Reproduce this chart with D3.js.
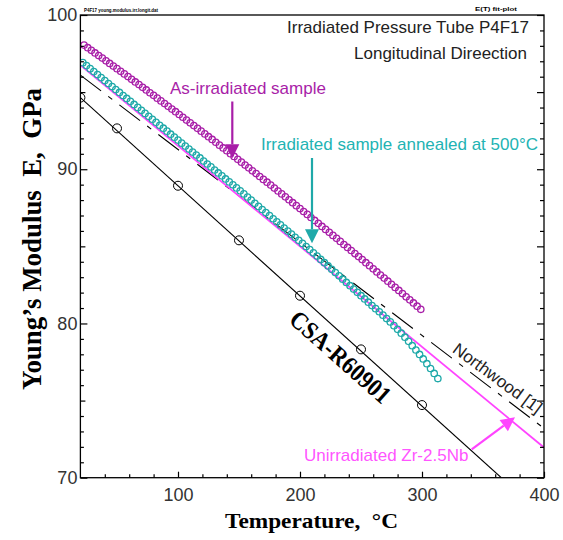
<!DOCTYPE html>
<html><head><meta charset="utf-8">
<script src="https://cdn.jsdelivr.net/npm/d3@7"></script>
<style>body{margin:0;background:#fff}</style>
</head><body>
<svg id="chart" width="563" height="540"></svg>
<script>
// ---- data ----
const csaTemps = [20, 50, 100, 150, 200, 250, 300];
const csaModulus = [94.64, 92.65, 88.93, 85.39, 81.80, 78.32, 74.71];
const csaLineTemps = [20, 365];
const csaLineModulus = [94.64, 70.0];
const northwoodTemps = [20, 400];
const northwoodModulus = [96.1, 73.2];
const unirrTemps = [20, 400];
const unirrModulus = [96.74, 71.96];
const asIrrTemps = [23,26,29,32,35,38,41,44,47,50,53,56,59,62,65,68,71,74,77,80,83,86,89,92,95,98,101,104,107,110,113,116,119,122,125,128,131,134,137,140,143,146,149,152,155,158,161,164,167,170,173,176,179,182,185,188,191,194,197,200,203,206,209,212,215,218,221,224,227,230,233,236,239,242,245,248,251,254,257,260,263,266,269,272,275,278,281,284,287,290,293,296,299];
const asIrrModulus = [98.05,97.88,97.71,97.54,97.37,97.21,97.03,96.86,96.69,96.52,
96.35,96.18,96.01,95.83,95.66,95.49,95.31,95.14,94.96,94.79,
94.61,94.43,94.26,94.08,93.90,93.73,93.55,93.37,93.19,93.01,
92.83,92.65,92.47,92.29,92.11,91.93,91.75,91.56,91.38,91.20,
91.01,90.83,90.64,90.46,90.27,90.09,89.90,89.72,89.53,89.34,
89.16,88.97,88.78,88.59,88.40,88.21,88.02,87.83,87.64,87.45,
87.26,87.07,86.87,86.68,86.49,86.29,86.10,85.91,85.71,85.52,
85.32,85.12,84.93,84.73,84.53,84.34,84.14,83.94,83.75,83.54,
83.34,83.14,82.94,82.74,82.54,82.34,82.14,81.94,81.73,81.53,
81.33,81.12,80.92];
const annealTemps = [22,25,28,31,34,37,40,43,46,49,52,55,58,61,64,67,70,73,76,79,82,85,88,91,94,97,100,103,106,109,112,115,118,121,124,127,130,133,136,139,142,145,148,151,154,157,160,163,166,169,172,175,178,181,184,187,190,193,196,199,202,205,208,211,214,217,220,223,226,229,232,235,238,241,244,247,250,253,256,259,262,265,268,271,274,277,280,283,286,289,292,295,298,301,304,307,310,313];
const annealModulus = [96.91,96.72,96.52,96.33,96.14,95.94,95.75,95.56,95.36,95.17,
94.98,94.78,94.59,94.40,94.20,94.01,93.82,93.62,93.43,93.24,
93.04,92.85,92.66,92.47,92.27,92.08,91.89,91.69,91.50,91.31,
91.11,90.92,90.73,90.53,90.34,90.15,89.95,89.76,89.57,89.37,
89.18,88.99,88.79,88.60,88.40,88.20,88.00,87.79,87.59,87.39,
87.19,86.99,86.79,86.59,86.39,86.19,85.99,85.79,85.59,85.39,
85.19,84.99,84.79,84.58,84.37,84.15,83.94,83.73,83.51,83.30,
83.09,82.87,82.66,82.45,82.23,82.02,81.80,81.59,81.38,81.16,
80.96,80.76,80.54,80.32,80.10,79.86,79.62,79.37,79.11,78.84,
78.56,78.28,77.99,77.70,77.39,77.08,76.76,76.43];
const xMajorTicks = [100, 200, 300, 400];
const xMinorTicks = [40,60,80,120,140,160,180,220,240,260,280,320,340,360,380];
const yMajorTicks = [70, 80, 90, 100];
const yMidTicks = [75, 85, 95];
const yMinorTicks = [71,72,73,74,76,77,78,79,81,82,83,84,86,87,88,89,91,92,93,94,96,97,98,99];

// ---- layout ----
const L = 80.4, R = 544, T = 15, B = 477.7;
const svg = d3.select("#chart");
const x = d3.scaleLinear().domain([20, 400]).range([L, R]);
const y = d3.scaleLinear().domain([70, 100]).range([B, T]);
const zip = (a, b) => a.map((v, i) => [v, b[i]]);

const COL_PURPLE = "#a81ea8", COL_TEAL = "#1fa9a9", COL_PINK = "#ff44ff";
const sans = "'Liberation Sans', Arial, Helvetica, sans-serif";
const serif = "'Liberation Serif', 'Times New Roman', serif";

const plot = svg.append("g");
plot.append("clipPath").attr("id", "clip").append("rect")
  .attr("x", L).attr("y", T).attr("width", R - L).attr("height", B - T);
const clipped = plot.append("g").attr("clip-path", "url(#clip)");
const line = d3.line().x(d => x(d[0])).y(d => y(d[1]));

// CSA line
clipped.append("path").datum(zip(csaLineTemps, csaLineModulus))
  .attr("d", line).attr("fill", "none").attr("stroke", "#000").attr("stroke-width", 1.1);
// Northwood dashed
clipped.append("path").datum(zip(northwoodTemps, northwoodModulus))
  .attr("d", line).attr("fill", "none").attr("stroke", "#000").attr("stroke-width", 1.1)
  .attr("stroke-dasharray", "26,9,5,9");
// Unirradiated
clipped.append("path").datum(zip(unirrTemps, unirrModulus))
  .attr("d", line).attr("fill", "none").attr("stroke", COL_PINK).attr("stroke-width", 1.8);

// CSA markers
clipped.selectAll("circle.csa").data(zip(csaTemps, csaModulus)).join("circle")
  .attr("class", "csa").attr("cx", d => x(d[0])).attr("cy", d => y(d[1])).attr("r", 4.5)
  .attr("fill", "none").attr("stroke", "#000").attr("stroke-width", 1);

// annealed (teal)
clipped.selectAll("circle.ann").data(zip(annealTemps, annealModulus)).join("circle")
  .attr("class", "ann").attr("cx", d => x(d[0])).attr("cy", d => y(d[1])).attr("r", 3.2)
  .attr("fill", "none").attr("stroke", COL_TEAL).attr("stroke-width", 1.3);
// as-irradiated (purple)
clipped.selectAll("circle.asirr").data(zip(asIrrTemps, asIrrModulus)).join("circle")
  .attr("class", "asirr").attr("cx", d => x(d[0])).attr("cy", d => y(d[1])).attr("r", 3.2)
  .attr("fill", "none").attr("stroke", COL_PURPLE).attr("stroke-width", 1.3);

// ---- axes ----
function axis(gen, tr) {
  const g = svg.append("g").attr("transform", tr).call(gen);
  g.select(".domain").remove();
  g.selectAll("line").attr("stroke", "#000").attr("stroke-width", 1.2);
  g.selectAll("text").attr("font-family", sans).attr("font-size", 18).attr("fill", "#333");
  return g;
}
axis(d3.axisBottom(x).tickValues(xMinorTicks).tickSize(-3.5).tickFormat(""), `translate(0,${B})`);
axis(d3.axisBottom(x).tickValues(xMajorTicks).tickSize(-6).tickPadding(11).tickFormat(d3.format("d")), `translate(0,${B})`);
axis(d3.axisLeft(y).tickValues(yMinorTicks).tickSize(-3.5).tickFormat(""), `translate(${L},0)`);
axis(d3.axisLeft(y).tickValues(yMidTicks).tickSize(-5).tickFormat(""), `translate(${L},0)`);
axis(d3.axisLeft(y).tickValues(yMajorTicks).tickSize(-7).tickPadding(3).tickFormat(d3.format("d")), `translate(${L},0)`);
axis(d3.axisRight(y).tickValues(yMinorTicks).tickSize(-4).tickFormat(""), `translate(${R},0)`);
axis(d3.axisRight(y).tickValues(yMidTicks.concat(yMajorTicks)).tickSize(-7).tickFormat(""), `translate(${R},0)`);
svg.append("rect").attr("x", L).attr("y", T).attr("width", R - L).attr("height", B - T)
  .attr("fill", "none").attr("stroke", "#000").attr("stroke-width", 1.3);

// ---- arrows ----
function arrow(x1, y1, x2, y2, col) {
  const ang = Math.atan2(y2 - y1, x2 - x1), hl = 14, hw = 7;
  const bx = x2 - hl * Math.cos(ang), by = y2 - hl * Math.sin(ang);
  svg.append("line").attr("x1", x1).attr("y1", y1).attr("x2", bx).attr("y2", by)
    .attr("stroke", col).attr("stroke-width", 2.2);
  const px = -Math.sin(ang) * hw, py = Math.cos(ang) * hw;
  svg.append("path").attr("d", `M${x2},${y2}L${bx + px},${by + py}L${bx - px},${by - py}Z`).attr("fill", col);
}
arrow(232.3, 101.5, 232.3, 158.3, COL_PURPLE);
arrow(312, 158, 312, 243.3, COL_TEAL);
arrow(471.7, 449.3, 515, 417.3, COL_PINK);

// ---- texts ----
const txt = (s, xx, yy, opt = {}) => svg.append("text").attr("x", xx).attr("y", yy).text(s)
  .attr("font-family", opt.family || sans).attr("font-size", opt.size || 17)
  .attr("fill", opt.fill || "#222").attr("text-anchor", opt.anchor || "start")
  .attr("font-weight", opt.weight || "normal");

txt("Irradiated Pressure Tube P4F17", 529, 33, {anchor: "end"});
txt("Longitudinal Direection", 527, 59, {anchor: "end"});
txt("As-irradiated sample", 170, 94, {fill: COL_PURPLE});
txt("Irradiated sample annealed at 500\u00B0C", 538, 150, {anchor: "end", fill: "#22b3b3"});
txt("Unirradiated Zr-2.5Nb", 304, 461, {fill: "#ff55ff"});
txt("Northwood [1]", 0, 0, {}).attr("transform", "translate(451.5,351.5) rotate(36.3)");

svg.append("text").text("CSA-R60901")
  .attr("font-family", serif).attr("font-weight", "bold").attr("font-size", 25)
  .attr("text-anchor", "middle").attr("dominant-baseline", "central")
  .attr("textLength", 126).attr("lengthAdjust", "spacingAndGlyphs")
  .attr("transform", "translate(340.5,357) rotate(41.5)");

svg.append("text").text("Temperature,\u00A0\u00A0\u00B0C")
  .attr("font-family", serif).attr("font-weight", "bold").attr("font-size", 21)
  .attr("textLength", 173).attr("lengthAdjust", "spacingAndGlyphs")
  .attr("x", 225).attr("y", 528);

svg.append("text").text("Young\u2019s Modulus\u00A0\u00A0E,\u00A0\u00A0GPa")
  .attr("font-family", serif).attr("font-weight", "bold").attr("font-size", 28)
  .attr("text-anchor", "middle").attr("textLength", 302).attr("lengthAdjust", "spacingAndGlyphs")
  .attr("transform", "translate(41,239) rotate(-90)");

// tiny header stamps
svg.append("text").text("P4F17 young.modulus.irr.longit.dat")
  .attr("font-family", sans).attr("font-weight", "bold").attr("font-size", 6)
  .attr("textLength", 74).attr("lengthAdjust", "spacingAndGlyphs").attr("x", 84).attr("y", 12);
svg.append("text").text("E(T) fit-plot")
  .attr("font-family", sans).attr("font-weight", "bold").attr("font-size", 6)
  .attr("textLength", 42).attr("lengthAdjust", "spacingAndGlyphs").attr("x", 475).attr("y", 11);
</script>
</body></html>
